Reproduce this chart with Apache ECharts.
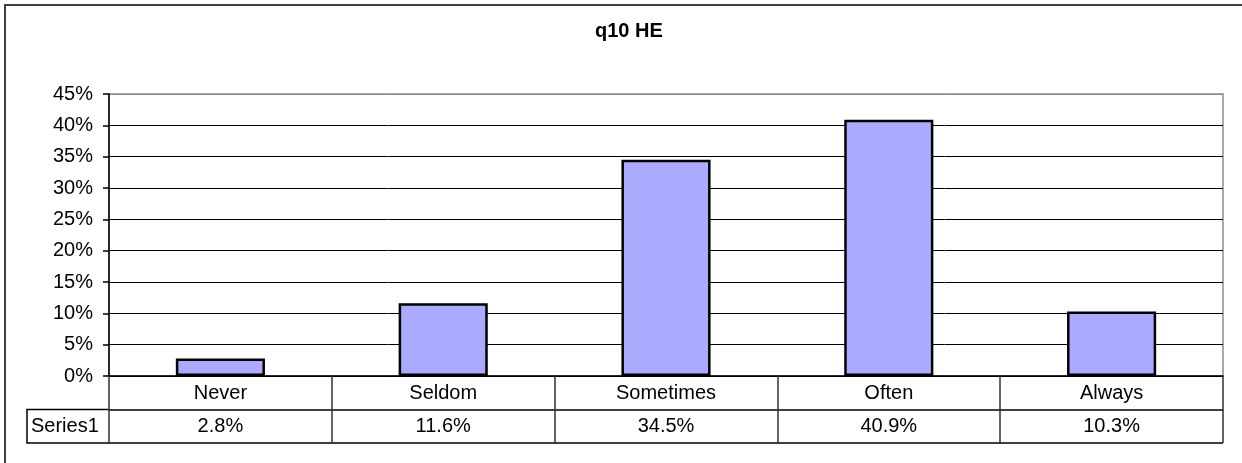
<!DOCTYPE html>
<html>
<head>
<meta charset="utf-8">
<title>q10 HE</title>
<script src="https://cdn.jsdelivr.net/npm/echarts@6/dist/echarts.min.js"></script>
<style>
  html, body { margin: 0; padding: 0; background: #fff; }
  #chart { width: 1242px; height: 463px; }
</style>
</head>
<body>
<div id="chart"></div>
<script>
// chart data
const chartTitle = 'q10 HE'
const seriesName = 'Series1'
const categories = ['Never', 'Seldom', 'Sometimes', 'Often', 'Always']
const values = [2.8, 11.6, 34.5, 40.9, 10.3]
const yTicks = [0, 5, 10, 15, 20, 25, 30, 35, 40, 45]

// plot area in pixels
const plotLeft = 109
const plotRight = 1223
const plotTop = 94
const plotBottom = 376
const rowHeight = 33.5
const font = 'Liberation Sans, Arial, sans-serif'

const chart = echarts.init(document.getElementById('chart'))

// last split line is the grey plot border
const splitColors = yTicks.map((t, i) => (i === yTicks.length - 1 ? '#8c8c8c' : '#000'))

chart.setOption({
  animation: false,
  title: {
    text: chartTitle,
    left: 590,
    top: 16,
    textStyle: { fontFamily: font, fontSize: 20, fontWeight: 'bold', color: '#000' },
  },
  grid: {
    left: plotLeft,
    right: 1242 - plotRight,
    top: plotTop,
    bottom: 463 - plotBottom,
    show: true,
    borderColor: '#8c8c8c',
    borderWidth: 1.5,
  },
  xAxis: [{
    type: 'category',
    data: categories,
    position: 'bottom',
    axisLine: { lineStyle: { color: '#000', width: 1.5 } },
    axisTick: { show: true, length: rowHeight, lineStyle: { color: '#333', width: 1.5 } },
    axisLabel: { margin: 7, fontFamily: font, fontSize: 20, color: '#000' },
  }, {
    type: 'category',
    data: values.map(v => v.toFixed(1) + '%'),
    position: 'bottom',
    offset: rowHeight,
    axisLine: { lineStyle: { color: '#000', width: 1.5 } },
    axisTick: { show: true, length: rowHeight, lineStyle: { color: '#333', width: 1.5 } },
    axisLabel: { margin: 7, fontFamily: font, fontSize: 20, color: '#000' },
  }],
  yAxis: {
    type: 'value',
    min: yTicks[0],
    max: yTicks[yTicks.length - 1],
    interval: 5,
    axisLine: { show: true, lineStyle: { color: '#000', width: 1.5 } },
    axisTick: { show: true, length: 6, lineStyle: { color: '#000', width: 1.5 } },
    axisLabel: {
      margin: 16,
      fontFamily: font,
      fontSize: 20,
      color: '#000',
      formatter: '{value}%',
    },
    splitLine: { show: true, lineStyle: { color: splitColors, width: 1 } },
  },
  series: [{
    name: seriesName,
    type: 'bar',
    xAxisIndex: 0,
    data: values,
    barWidth: '40%',
    itemStyle: { color: '#aaaaff', borderColor: '#000', borderWidth: 2.5 },
  }],
  graphic: [{
    // outer chart frame (left and top edges)
    type: 'polyline',
    shape: { points: [[5, 463], [5, 5], [1242, 5]] },
    style: { stroke: '#404040', lineWidth: 2, fill: null },
  }, {
    // legend cell of the data table
    type: 'polyline',
    shape: {
      points: [
        [plotLeft, plotBottom + rowHeight],
        [27, plotBottom + rowHeight],
        [27, plotBottom + rowHeight * 2],
        [plotRight, plotBottom + rowHeight * 2],
      ],
    },
    style: { stroke: '#000', lineWidth: 1.5, fill: null },
  }, {
    type: 'text',
    left: 31,
    top: plotBottom + rowHeight + 7,
    style: { text: seriesName, font: '20px ' + font, fill: '#000' },
  }],
})

window.addEventListener('resize', () => {
  chart.resize()
})
</script>
</body>
</html>
